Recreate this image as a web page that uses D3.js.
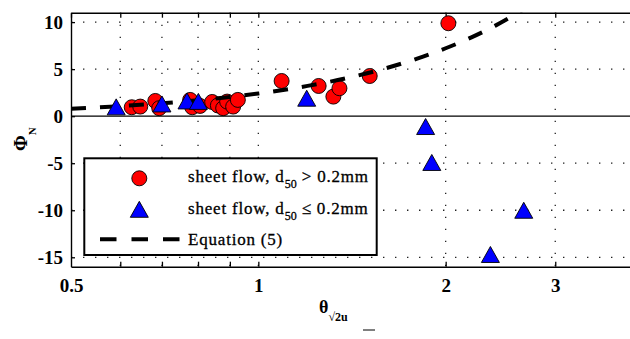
<!DOCTYPE html>
<html>
<head>
<meta charset="utf-8">
<script src="https://cdn.jsdelivr.net/npm/d3@7"></script>
<style>
body { margin: 0; background: #fff; }
text { font-family: "Liberation Serif", "Times New Roman", serif; fill: #000; }
</style>
</head>
<body>
<script>
// sheet flow, d50 > 0.2mm
var coarseTheta = [0.626, 0.646, 0.683, 0.693, 0.777, 0.783, 0.806, 0.843, 0.861, 0.878, 0.891, 0.911, 0.927, 1.09, 1.25, 1.32, 1.35, 1.51, 2.02];
var coarsePhi   = [0.95, 1.02, 1.62, 0.85, 1.73, 0.95, 1.09, 1.51, 1.14, 0.85, 1.55, 1.02, 1.73, 3.74, 3.21, 2.08, 2.97, 4.27, 9.88];
// sheet flow, d50 <= 0.2mm
var fineTheta = [0.591, 0.700, 0.768, 0.801, 1.196, 1.857, 1.90, 2.67, 2.36];
var finePhi   = [0.99, 1.30, 1.62, 1.57, 1.91, -1.10, -4.92, -10.0, -14.7];
// Equation (5)
var eqTheta = [0.5, 0.6, 0.7, 0.8, 0.9, 1.0, 1.2, 1.4, 1.6, 1.8, 2.0, 2.2, 2.4, 2.6, 2.8];
var eqPhi   = [0.80, 1.07, 1.37, 1.70, 2.04, 2.41, 3.22, 4.11, 5.08, 6.12, 7.22, 8.38, 9.60, 10.9, 12.2];

var xTicks = [0.5, 0.6, 0.7, 0.8, 0.9, 1, 2, 3];
var xLabels = [0.5, 1, 2, 3];
var yTicks = [-15, -10, -5, 0, 5, 10];

var W = 630, H = 339;
var pLeft = 71, pRight = 633, pTop = 12.7, pBottom = 266.7;

var svg = d3.select("body").append("svg").attr("width", W).attr("height", H);

var x = d3.scaleLog().domain([0.5, 4]).range([pLeft, pRight]);
var y = d3.scaleLinear().domain([-16, 11]).range([pBottom, pTop]);

svg.append("clipPath").attr("id", "plot")
  .append("rect").attr("x", pLeft).attr("y", pTop).attr("width", pRight - pLeft).attr("height", pBottom - pTop);

// dotted grid
var grid = svg.append("g").attr("stroke", "#222").attr("stroke-width", 1.3).attr("stroke-dasharray", "1.4 10.6");
grid.selectAll(".vg").data(xTicks.filter(d => d != 0.5)).enter().append("line")
  .attr("x1", d => x(d)).attr("x2", d => x(d)).attr("y1", pTop).attr("y2", pBottom);
grid.selectAll(".hg").data(yTicks.filter(d => d != 0)).enter().append("line")
  .attr("x1", pLeft).attr("x2", pRight).attr("y1", d => y(d)).attr("y2", d => y(d));

// zero line
svg.append("line").attr("x1", pLeft).attr("x2", pRight).attr("y1", y(0)).attr("y2", y(0))
  .attr("stroke", "#000").attr("stroke-width", 1.3);

// axes
var yAxis = svg.append("g").attr("transform", "translate(" + pLeft + ",0)")
  .call(d3.axisLeft(y).tickValues(yTicks).tickSize(-4).tickPadding(8).tickSizeOuter(0)
    .tickFormat(d => String(d)));
var xAxis = svg.append("g").attr("transform", "translate(0," + pBottom + ")")
  .call(d3.axisBottom(x).tickValues(xTicks).tickSize(-5).tickPadding(12).tickSizeOuter(0)
    .tickFormat(d => xLabels.indexOf(d) >= 0 ? d : ""));
var xTop = svg.append("g").attr("transform", "translate(0," + pTop + ")")
  .call(d3.axisTop(x).tickValues(xTicks).tickSize(-5).tickFormat("").tickSizeOuter(0));
[yAxis, xAxis, xTop].forEach(function(g) {
  g.select(".domain").attr("stroke-width", 1.4);
  g.selectAll(".tick line").attr("stroke-width", 1.3);
  g.selectAll("text").attr("font-family", "Liberation Serif").attr("font-size", 19).attr("font-weight", "bold");
});
xAxis.selectAll(".tick").filter(d => d == 0.5).select("line").remove();

var plot = svg.append("g").attr("clip-path", "url(#plot)");

// coarse sand circles
plot.selectAll(".c").data(coarseTheta).enter().append("circle")
  .attr("cx", d => x(d)).attr("cy", (d, i) => y(coarsePhi[i])).attr("r", 7.5)
  .attr("fill", "#ff0000").attr("stroke", "#000").attr("stroke-width", 0.9);

// equation curve
var line = d3.line().x(d => x(d[0])).y(d => y(d[1])).curve(d3.curveMonotoneX);
plot.append("path").datum(eqTheta.map((t, i) => [t, eqPhi[i]]))
  .attr("d", line).attr("fill", "none").attr("stroke", "#000")
  .attr("stroke-width", 4).attr("stroke-dasharray", "15 14");

// fine sand triangles
var tri = "M0,-8L9,8L-9,8Z";
plot.selectAll(".t").data(fineTheta).enter().append("path")
  .attr("d", tri)
  .attr("transform", (d, i) => "translate(" + x(d) + "," + y(finePhi[i]) + ")")
  .attr("fill", "#0000ff").attr("stroke", "#000").attr("stroke-width", 0.9);

// legend
var lg = svg.append("g");
lg.append("rect").attr("x", 84.3).attr("y", 158.3).attr("width", 292.4).attr("height", 96.7)
  .attr("fill", "#fff").attr("stroke", "#000").attr("stroke-width", 2);
lg.append("circle").attr("cx", 139.3).attr("cy", 178.3).attr("r", 7.5)
  .attr("fill", "#ff0000").attr("stroke", "#000").attr("stroke-width", 0.9);
lg.append("path").attr("d", tri).attr("transform", "translate(139.3,209.3)")
  .attr("fill", "#0000ff").attr("stroke", "#000").attr("stroke-width", 0.9);
lg.append("line").attr("x1", 100).attr("x2", 182).attr("y1", 239.3).attr("y2", 239.3)
  .attr("stroke", "#000").attr("stroke-width", 4).attr("stroke-dasharray", "16.5 15");

var legendRows = [
  {y: 182, main: "sheet flow, d", sub: "50", rest: " > 0.2mm"},
  {y: 213.5, main: "sheet flow, d", sub: "50", rest: " \u2264 0.2mm"},
  {y: 245, main: "Equation (5)", sub: "", rest: ""}
];
legendRows.forEach(function(r) {
  var t = lg.append("text").attr("x", 188).attr("y", r.y).attr("font-size", 17)
    .attr("letter-spacing", 0.8).attr("stroke", "#000").attr("stroke-width", 0.3);
  t.append("tspan").text(r.main);
  if (r.sub) {
    t.append("tspan").attr("dy", 6).attr("font-size", 12).attr("letter-spacing", 0).text(r.sub);
    t.append("tspan").attr("dy", -6).text(r.rest);
  }
});

// axis labels
var yl = svg.append("text").attr("transform", "translate(27,151) rotate(-90)")
  .attr("font-size", 19).attr("font-weight", "bold");
yl.append("tspan").text("\u03A6");
yl.append("tspan").attr("dy", 9).attr("font-size", 11).text("N");

var xl = svg.append("text").attr("x", 319).attr("y", 313)
  .attr("font-size", 18).attr("font-weight", "bold");
xl.append("tspan").text("\u03B8");
xl.append("tspan").attr("dy", 8).attr("font-size", 12).text("\u221A2u");
svg.append("line").attr("x1", 363).attr("x2", 375).attr("y1", 330).attr("y2", 330)
  .attr("stroke", "#000").attr("stroke-width", 1);
</script>
</body>
</html>
